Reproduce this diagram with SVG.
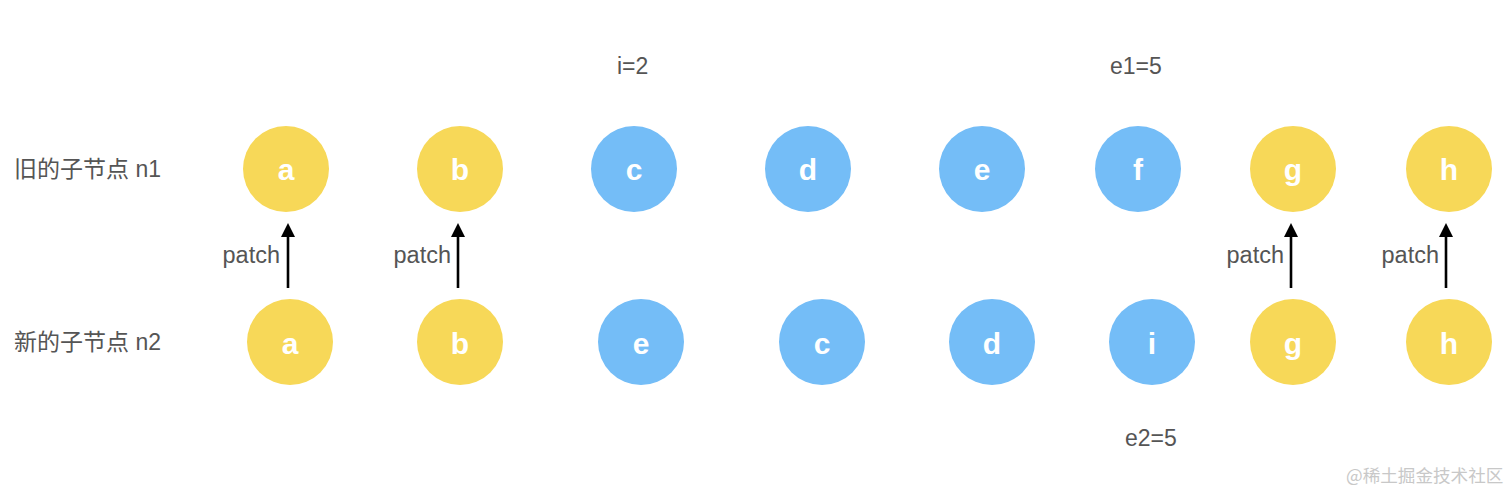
<svg xmlns="http://www.w3.org/2000/svg" width="1512" height="492" viewBox="0 0 1512 492">
<style>
.y{fill:#F7D858}
.b{fill:#74BDF7}
.n text{font-family:"Liberation Sans",Arial,sans-serif;font-weight:bold;font-size:30px;fill:#fff;text-anchor:middle}
.lbl{font-family:"Liberation Sans","Noto Sans CJK SC",sans-serif;font-size:23px;fill:#555}
.p{font-family:"Liberation Sans",Arial,sans-serif;font-size:23.5px;fill:#555;text-anchor:end}
.wm{font-family:"Noto Sans CJK SC",sans-serif;font-size:17.6px;fill:#c8c8c8}
.ar{stroke:#000;stroke-width:2.6;fill:none;marker-end:url(#ah)}
</style>
<defs>
<marker id="ah" viewBox="0 0 14 14" refX="0" refY="7" markerWidth="14" markerHeight="14" markerUnits="userSpaceOnUse" orient="auto">
<path d="M0,0 L14,7 L0,14 Z" fill="#000"/>
</marker>
</defs>
<rect width="1512" height="492" fill="#fff"/>
<text class="lbl" x="14" y="177">旧的子节点 n1</text>
<text class="lbl" x="14" y="350">新的子节点 n2</text>
<text class="lbl" x="617" y="74">i=2</text>
<text class="lbl" x="1110" y="74">e1=5</text>
<text class="lbl" x="1125" y="446">e2=5</text>
<g id="old">
<g id="o-a" class="n"><circle class="y" cx="286" cy="169" r="43"/><text x="286" y="180">a</text></g>
<g id="o-b" class="n"><circle class="y" cx="460" cy="169" r="43"/><text x="460" y="180">b</text></g>
<g id="o-c" class="n"><circle class="b" cx="634" cy="169" r="43"/><text x="634" y="180">c</text></g>
<g id="o-d" class="n"><circle class="b" cx="808" cy="169" r="43"/><text x="808" y="180">d</text></g>
<g id="o-e" class="n"><circle class="b" cx="982" cy="169" r="43"/><text x="982" y="180">e</text></g>
<g id="o-f" class="n"><circle class="b" cx="1138" cy="169" r="43"/><text x="1138" y="180">f</text></g>
<g id="o-g" class="n"><circle class="y" cx="1293" cy="169" r="43"/><text x="1293" y="180">g</text></g>
<g id="o-h" class="n"><circle class="y" cx="1449" cy="169" r="43"/><text x="1449" y="180">h</text></g>
</g>
<g id="new">
<g id="n-a" class="n"><circle class="y" cx="290" cy="342" r="43"/><text x="290" y="354">a</text></g>
<g id="n-b" class="n"><circle class="y" cx="460" cy="342" r="43"/><text x="460" y="354">b</text></g>
<g id="n-e" class="n"><circle class="b" cx="641" cy="342" r="43"/><text x="641" y="354">e</text></g>
<g id="n-c" class="n"><circle class="b" cx="822" cy="342" r="43"/><text x="822" y="354">c</text></g>
<g id="n-d" class="n"><circle class="b" cx="992" cy="342" r="43"/><text x="992" y="354">d</text></g>
<g id="n-i" class="n"><circle class="b" cx="1152" cy="342" r="43"/><text x="1152" y="354">i</text></g>
<g id="n-g" class="n"><circle class="y" cx="1293" cy="342" r="43"/><text x="1293" y="354">g</text></g>
<g id="n-h" class="n"><circle class="y" cx="1449" cy="342" r="43"/><text x="1449" y="354">h</text></g>
</g>
<g id="connectors">
<line class="ar" x1="288" y1="288" x2="288" y2="237"/>
<line class="ar" x1="458" y1="288" x2="458" y2="237"/>
<line class="ar" x1="1291" y1="288" x2="1291" y2="237"/>
<line class="ar" x1="1446" y1="288" x2="1446" y2="237"/>
<text class="p" x="280" y="263">patch</text>
<text class="p" x="451" y="263">patch</text>
<text class="p" x="1284" y="263">patch</text>
<text class="p" x="1439" y="263">patch</text>
</g>
<text class="wm" x="1346" y="482">@稀土掘金技术社区</text>
</svg>
